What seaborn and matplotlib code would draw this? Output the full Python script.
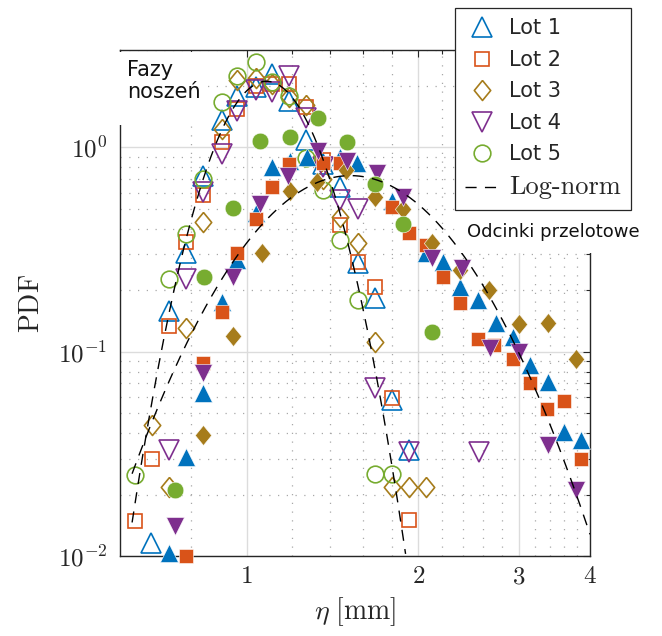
import numpy as np
import pandas as pd
import matplotlib
matplotlib.use("Agg")
import matplotlib.pyplot as plt
from matplotlib.patches import Rectangle
from matplotlib.ticker import FixedLocator, NullFormatter, LogLocator
import seaborn as sns

# ---------------- data: binned PDFs of eta [mm] ----------------
# Wear phases ("Fazy noszeń") - hollow markers
lot1_w_x = [0.680, 0.732, 0.784, 0.840, 0.904, 0.964, 1.037, 1.107, 1.186, 1.270, 1.361, 1.458, 1.568, 1.680, 1.800, 1.929]
lot1_w_y = [0.0116, 0.159, 0.306, 0.729, 1.37, 1.78, 1.97, 2.28, 1.68, 1.09, 0.826, 0.637, 0.273, 0.184, 0.0582, 0.0331]

lot2_w_x = [0.638, 0.683, 0.732, 0.784, 0.840, 0.904, 0.964, 1.037, 1.107, 1.186, 1.270, 1.361, 1.458, 1.568, 1.680, 1.800, 1.929]
lot2_w_y = [0.0149, 0.0299, 0.134, 0.346, 0.588, 1.06, 1.54, 1.99, 2.04, 2.04, 1.57, 0.873, 0.415, 0.276, 0.208, 0.0595, 0.0150]

lot3_w_x = [0.683, 0.732, 0.784, 0.840, 0.904, 0.964, 1.037, 1.107, 1.186, 1.270, 1.361, 1.458, 1.568, 1.680, 1.800, 1.929, 2.066]
lot3_w_y = [0.0439, 0.0218, 0.131, 0.434, 1.225, 2.15, 2.20, 2.05, 1.76, 1.62, 0.697, 0.459, 0.342, 0.112, 0.0218, 0.0218, 0.0218]

lot4_w_x = [0.732, 0.784, 0.840, 0.904, 0.964, 1.037, 1.107, 1.186, 1.270, 1.361, 1.458, 1.568, 1.680, 1.929, 2.551]
lot4_w_y = [0.0331, 0.228, 0.602, 0.924, 1.50, 1.92, 1.86, 2.23, 1.40, 0.798, 0.556, 0.497, 0.0666, 0.0324, 0.0324]

lot5_w_x = [0.638, 0.732, 0.784, 0.840, 0.904, 0.964, 1.037, 1.107, 1.186, 1.270, 1.361, 1.458, 1.568, 1.680, 1.800]
lot5_w_y = [0.0249, 0.228, 0.379, 0.697, 1.66, 2.23, 2.61, 2.08, 1.78, 0.893, 0.622, 0.354, 0.180, 0.0252, 0.0252]

# Cruise sections ("Odcinki przelotowe") - filled markers
lot1_c_x = [0.732, 0.784, 0.840, 0.904, 0.964, 1.037, 1.107, 1.190, 1.275, 1.458, 1.562, 1.800, 2.066, 2.213, 2.371, 2.541, 2.734, 2.928, 3.137, 3.373, 3.600, 3.858]
lot1_c_y = [0.0104, 0.0306, 0.0630, 0.176, 0.2825, 0.480, 0.798, 0.854, 0.903, 0.903, 0.844, 0.544, 0.306, 0.276, 0.208, 0.180, 0.139, 0.1185, 0.0863, 0.0713, 0.0405, 0.0370]

lot2_c_x = [0.784, 0.840, 0.904, 0.964, 1.037, 1.107, 1.186, 1.361, 1.458, 1.800, 1.929, 2.066, 2.213, 2.371, 2.541, 2.710, 2.928, 3.137, 3.360, 3.600, 3.858]
lot2_c_y = [0.0100, 0.0883, 0.157, 0.306, 0.444, 0.644, 0.826, 0.844, 0.844, 0.514, 0.383, 0.334, 0.233, 0.174, 0.1158, 0.108, 0.0924, 0.0705, 0.0526, 0.0575, 0.0299]

lot3_c_x = [0.840, 0.945, 1.063, 1.190, 1.328, 1.494, 1.680, 1.883, 2.117, 2.371, 2.657, 3.000, 3.373, 3.781]
lot3_c_y = [0.0392, 0.1198, 0.306, 0.609, 0.681, 0.780, 0.575, 0.497, 0.342, 0.252, 0.201, 0.136, 0.139, 0.0924]

lot4_c_x = [0.750, 0.840, 0.945, 1.054, 1.181, 1.334, 1.500, 1.694, 1.883, 2.117, 2.390, 2.667, 3.000, 3.373, 3.781]
lot4_c_y = [0.0140, 0.0789, 0.233, 0.526, 0.721, 0.956, 0.854, 0.754, 0.575, 0.289, 0.258, 0.1046, 0.100, 0.0350, 0.0211]

lot5_c_x = [0.750, 0.843, 0.945, 1.054, 1.190, 1.334, 1.500, 1.680, 1.883, 2.117]
lot5_c_y = [0.0211, 0.233, 0.508, 1.07, 1.13, 1.40, 1.06, 0.659, 0.420, 0.125]

# Log-normal fits: (mu, sigma) of ln(eta) and plotted range
lognorm_wear = (0.11, 0.172, 0.63, 1.90)
lognorm_cruise = (0.535, 0.34, 0.63, 4.00)

lot_labels = ["Lot 1", "Lot 2", "Lot 3", "Lot 4", "Lot 5"]
fit_label = "Log-norm"
lot_colors = ["#0072BD", "#D95319", "#A67C1B", "#7E2F8E", "#77AC30"]

x_major = [1, 2, 3, 4]
x_major_labels = [r"$1$", r"$2$", r"$3$", r"$4$"]
x_minor = [0.8, 1.2, 1.4, 1.6, 1.8, 2.2, 2.4, 2.6, 2.8, 3.2, 3.4, 3.6, 3.8]
y_major = [1e-2, 1e-1, 1e0]
y_major_labels = [r"$10^{-2}$", r"$10^{-1}$", r"$10^{0}$"]

# ---------------- figure ----------------
sns.set_style("white")
plt.rcParams["mathtext.fontset"] = "cm"
plt.rcParams["font.family"] = ["DejaVu Sans"]

W, H = 662, 636
fig = plt.figure(figsize=(W / 100, H / 100), dpi=100)
ax = fig.add_axes([120 / W, 1 - 556 / H, 470 / W, 506 / H])
ax.set_xscale("log")
ax.set_yscale("log")
ax.set_xlim(0.6, 4.0)
ax.set_ylim(0.01, 3.0)

diamond = [(0, 1), (0.82, 0), (0, -1), (-0.82, 0), (0, 1)]
lot_markers = ["^", "s", diamond, "v", "o"]
hollow_ms = [14, 9.5, 14.4, 14, 12]
filled_ms = [13, 9.5, 14.4, 13, 12]


def draw_markers(xs, ys, marker, color, ms, filled, z):
    df = pd.DataFrame({"eta": xs, "pdf": ys})
    kws = dict(marker=marker, markersize=ms, linestyle="none", color=color,
               clip_on=False, zorder=z)
    if filled:
        kws.update(markerfacecolor=color, markeredgecolor="white", markeredgewidth=0.4)
    else:
        kws.update(markerfacecolor="none", markeredgecolor=color, markeredgewidth=1.2)
    sns.lineplot(data=df, x="eta", y="pdf", ax=ax, errorbar=None, legend=False, **kws)
    return ax.lines[-1]


wear = [(lot1_w_x, lot1_w_y), (lot2_w_x, lot2_w_y), (lot3_w_x, lot3_w_y),
        (lot4_w_x, lot4_w_y), (lot5_w_x, lot5_w_y)]
cruise = [(lot1_c_x, lot1_c_y), (lot2_c_x, lot2_c_y), (lot3_c_x, lot3_c_y),
          (lot4_c_x, lot4_c_y), (lot5_c_x, lot5_c_y)]

handles = []
for i, (xs, ys) in enumerate(wear):
    handles.append(draw_markers(xs, ys, lot_markers[i], lot_colors[i], hollow_ms[i], False, 3))
for i, (xs, ys) in enumerate(cruise):
    draw_markers(xs, ys, lot_markers[i], lot_colors[i], filled_ms[i], True, 4)


def lognorm_pdf(x, mu, sigma):
    return np.exp(-(np.log(x) - mu) ** 2 / (2 * sigma ** 2)) / (x * sigma * np.sqrt(2 * np.pi))


fit_line = None
for mu, sigma, x0, x1 in (lognorm_wear, lognorm_cruise):
    xx = np.geomspace(x0, x1, 400)
    fit_df = pd.DataFrame({"eta": xx, "pdf": lognorm_pdf(xx, mu, sigma)})
    sns.lineplot(data=fit_df, x="eta", y="pdf", ax=ax, errorbar=None, legend=False,
                 color="black", linewidth=1.0, zorder=5)
    fit_line = ax.lines[-1]
    fit_line.set_linestyle((0, (8, 6)))
handles.append(fit_line)

# ---------------- axes styling ----------------
ax.xaxis.set_major_locator(FixedLocator(x_major))
ax.set_xticklabels(x_major_labels)
ax.xaxis.set_minor_locator(FixedLocator(x_minor))
ax.xaxis.set_minor_formatter(NullFormatter())
ax.yaxis.set_major_locator(FixedLocator(y_major))
ax.set_yticklabels(y_major_labels)
ax.yaxis.set_minor_locator(LogLocator(base=10, subs=np.arange(2, 10)))
ax.yaxis.set_minor_formatter(NullFormatter())

ax.tick_params(which="both", direction="in", top=True, right=True, colors="#262626",
               width=0.8, labelsize=18)
ax.tick_params(axis="x", which="both", pad=6)
ax.tick_params(axis="y", which="both", pad=9)
ax.tick_params(which="major", length=5)
ax.tick_params(which="minor", length=3)
for sp in ax.spines.values():
    sp.set_color("#262626")
    sp.set_linewidth(1.0)

ax.grid(which="major", color="#dcdcdc", linewidth=1.0, linestyle="-")
ax.grid(which="minor", color="#a8a8a8", linewidth=0.9, linestyle=(0, (1, 6)))
ax.set_axisbelow(True)

ax.set_xlabel(r"$\eta\ [\mathrm{mm}]$", fontsize=20, labelpad=5)
ax.set_ylabel(r"$\mathrm{PDF}$", fontsize=20, labelpad=9)

# ---------------- annotations ----------------
fig.patches.append(Rectangle((114 / W, 1 - 125 / H), 92 / W, 73 / H,
                             transform=fig.transFigure, facecolor="white",
                             edgecolor="none", zorder=2))
fig.text(127 / W, 1 - 60 / H, "Fazy\nnoszeń", fontsize=15, ha="left", va="top",
         linespacing=1.15, color="#111111", zorder=3)

fig.patches.append(Rectangle((460 / W, 1 - 253 / H), 190 / W, 43 / H,
                             transform=fig.transFigure, facecolor="white",
                             edgecolor="none", zorder=2))
fig.text(467 / W, 1 - 232 / H, "Odcinki przelotowe", fontsize=13, ha="left",
         va="center", color="#111111", zorder=3)

leg = fig.legend(handles, lot_labels + [fit_label], loc="upper left",
                 bbox_to_anchor=(455 / W, 1 - 8 / H), bbox_transform=fig.transFigure,
                 borderaxespad=0, frameon=True, fancybox=False, framealpha=1,
                 edgecolor="#262626", fontsize=15, labelspacing=0.55,
                 handlelength=1.6, handletextpad=0.5, borderpad=0.5)
leg.get_frame().set_linewidth(0.9)
leg.set_zorder(4)
leg.get_texts()[-1].set_fontfamily("cmr10")
leg.get_texts()[-1].set_fontsize(19)

fig.savefig("out.png", dpi=100, facecolor="white")
